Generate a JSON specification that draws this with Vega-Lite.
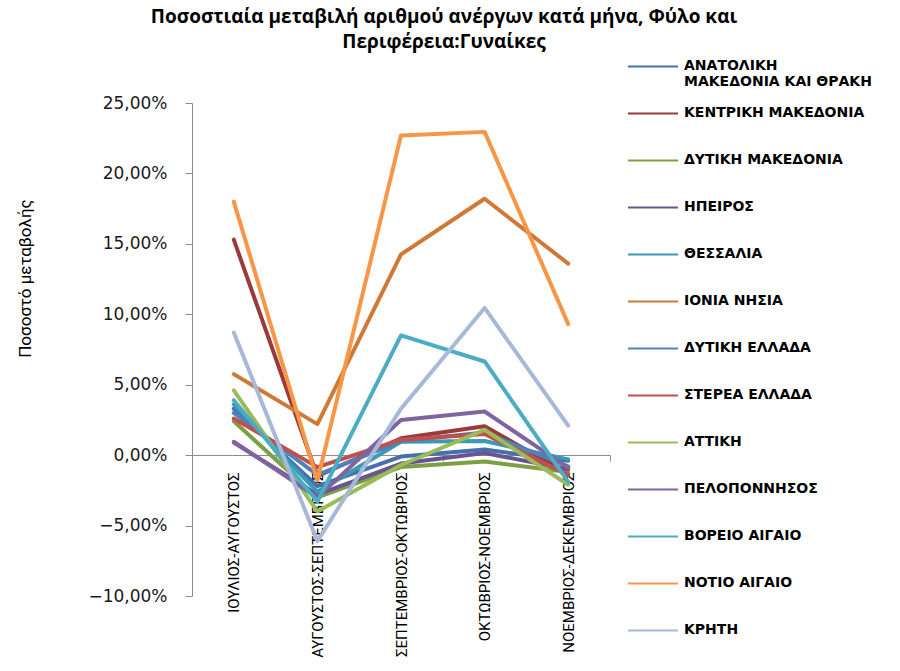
{
  "$schema": "https://vega.github.io/schema/vega-lite/v6.json",
  "width": 418,
  "height": 493,
  "autosize": "none",
  "padding": {"left": 192, "top": 103, "right": 290, "bottom": 75},
  "background": "white",
  "config": {
    "locale": {"number": {"decimal": ",", "thousands": ".", "grouping": [3], "currency": ["", " €"]}},
    "view": {"stroke": null}
  },
  "title": {
    "text": ["Ποσοστιαία μεταβιλή αριθμού ανέργων κατά μήνα, Φύλο και", "Περιφέρεια:Γυναίκες"],
    "font": "Open Sans",
    "fontSize": 19,
    "fontWeight": "bold",
    "color": "#000000",
    "lineHeight": 25,
    "anchor": "middle",
    "frame": "group",
    "dx": 43,
    "offset": -9
  },
  "data": {
    "values": [
      {"period": "ΙΟΥΛΙΟΣ-ΑΥΓΟΥΣΤΟΣ", "region": "ΑΝΑΤΟΛΙΚΗ ΜΑΚΕΔΟΝΙΑ ΚΑΙ ΘΡΑΚΗ", "value": 0.033},
      {"period": "ΑΥΓΟΥΣΤΟΣ-ΣΕΠΤΕΜΒΡΙΟΣ", "region": "ΑΝΑΤΟΛΙΚΗ ΜΑΚΕΔΟΝΙΑ ΚΑΙ ΘΡΑΚΗ", "value": -0.022},
      {"period": "ΣΕΠΤΕΜΒΡΙΟΣ-ΟΚΤΩΒΡΙΟΣ", "region": "ΑΝΑΤΟΛΙΚΗ ΜΑΚΕΔΟΝΙΑ ΚΑΙ ΘΡΑΚΗ", "value": -0.001},
      {"period": "ΟΚΤΩΒΡΙΟΣ-ΝΟΕΜΒΡΙΟΣ", "region": "ΑΝΑΤΟΛΙΚΗ ΜΑΚΕΔΟΝΙΑ ΚΑΙ ΘΡΑΚΗ", "value": 0.004},
      {"period": "ΝΟΕΜΒΡΙΟΣ-ΔΕΚΕΜΒΡΙΟΣ", "region": "ΑΝΑΤΟΛΙΚΗ ΜΑΚΕΔΟΝΙΑ ΚΑΙ ΘΡΑΚΗ", "value": -0.004},

      {"period": "ΙΟΥΛΙΟΣ-ΑΥΓΟΥΣΤΟΣ", "region": "ΚΕΝΤΡΙΚΗ ΜΑΚΕΔΟΝΙΑ", "value": 0.153},
      {"period": "ΑΥΓΟΥΣΤΟΣ-ΣΕΠΤΕΜΒΡΙΟΣ", "region": "ΚΕΝΤΡΙΚΗ ΜΑΚΕΔΟΝΙΑ", "value": -0.015},
      {"period": "ΣΕΠΤΕΜΒΡΙΟΣ-ΟΚΤΩΒΡΙΟΣ", "region": "ΚΕΝΤΡΙΚΗ ΜΑΚΕΔΟΝΙΑ", "value": 0.012},
      {"period": "ΟΚΤΩΒΡΙΟΣ-ΝΟΕΜΒΡΙΟΣ", "region": "ΚΕΝΤΡΙΚΗ ΜΑΚΕΔΟΝΙΑ", "value": 0.0205},
      {"period": "ΝΟΕΜΒΡΙΟΣ-ΔΕΚΕΜΒΡΙΟΣ", "region": "ΚΕΝΤΡΙΚΗ ΜΑΚΕΔΟΝΙΑ", "value": -0.013},

      {"period": "ΙΟΥΛΙΟΣ-ΑΥΓΟΥΣΤΟΣ", "region": "ΔΥΤΙΚΗ ΜΑΚΕΔΟΝΙΑ", "value": 0.024},
      {"period": "ΑΥΓΟΥΣΤΟΣ-ΣΕΠΤΕΜΒΡΙΟΣ", "region": "ΔΥΤΙΚΗ ΜΑΚΕΔΟΝΙΑ", "value": -0.030},
      {"period": "ΣΕΠΤΕΜΒΡΙΟΣ-ΟΚΤΩΒΡΙΟΣ", "region": "ΔΥΤΙΚΗ ΜΑΚΕΔΟΝΙΑ", "value": -0.0085},
      {"period": "ΟΚΤΩΒΡΙΟΣ-ΝΟΕΜΒΡΙΟΣ", "region": "ΔΥΤΙΚΗ ΜΑΚΕΔΟΝΙΑ", "value": -0.0045},
      {"period": "ΝΟΕΜΒΡΙΟΣ-ΔΕΚΕΜΒΡΙΟΣ", "region": "ΔΥΤΙΚΗ ΜΑΚΕΔΟΝΙΑ", "value": -0.012},

      {"period": "ΙΟΥΛΙΟΣ-ΑΥΓΟΥΣΤΟΣ", "region": "ΗΠΕΙΡΟΣ", "value": 0.009},
      {"period": "ΑΥΓΟΥΣΤΟΣ-ΣΕΠΤΕΜΒΡΙΟΣ", "region": "ΗΠΕΙΡΟΣ", "value": -0.028},
      {"period": "ΣΕΠΤΕΜΒΡΙΟΣ-ΟΚΤΩΒΡΙΟΣ", "region": "ΗΠΕΙΡΟΣ", "value": -0.006},
      {"period": "ΟΚΤΩΒΡΙΟΣ-ΝΟΕΜΒΡΙΟΣ", "region": "ΗΠΕΙΡΟΣ", "value": 0.0015},
      {"period": "ΝΟΕΜΒΡΙΟΣ-ΔΕΚΕΜΒΡΙΟΣ", "region": "ΗΠΕΙΡΟΣ", "value": -0.010},

      {"period": "ΙΟΥΛΙΟΣ-ΑΥΓΟΥΣΤΟΣ", "region": "ΘΕΣΣΑΛΙΑ", "value": 0.036},
      {"period": "ΑΥΓΟΥΣΤΟΣ-ΣΕΠΤΕΜΒΡΙΟΣ", "region": "ΘΕΣΣΑΛΙΑ", "value": -0.026},
      {"period": "ΣΕΠΤΕΜΒΡΙΟΣ-ΟΚΤΩΒΡΙΟΣ", "region": "ΘΕΣΣΑΛΙΑ", "value": 0.0095},
      {"period": "ΟΚΤΩΒΡΙΟΣ-ΝΟΕΜΒΡΙΟΣ", "region": "ΘΕΣΣΑΛΙΑ", "value": 0.010},
      {"period": "ΝΟΕΜΒΡΙΟΣ-ΔΕΚΕΜΒΡΙΟΣ", "region": "ΘΕΣΣΑΛΙΑ", "value": -0.003},

      {"period": "ΙΟΥΛΙΟΣ-ΑΥΓΟΥΣΤΟΣ", "region": "ΙΟΝΙΑ ΝΗΣΙΑ", "value": 0.0575},
      {"period": "ΑΥΓΟΥΣΤΟΣ-ΣΕΠΤΕΜΒΡΙΟΣ", "region": "ΙΟΝΙΑ ΝΗΣΙΑ", "value": 0.022},
      {"period": "ΣΕΠΤΕΜΒΡΙΟΣ-ΟΚΤΩΒΡΙΟΣ", "region": "ΙΟΝΙΑ ΝΗΣΙΑ", "value": 0.1425},
      {"period": "ΟΚΤΩΒΡΙΟΣ-ΝΟΕΜΒΡΙΟΣ", "region": "ΙΟΝΙΑ ΝΗΣΙΑ", "value": 0.182},
      {"period": "ΝΟΕΜΒΡΙΟΣ-ΔΕΚΕΜΒΡΙΟΣ", "region": "ΙΟΝΙΑ ΝΗΣΙΑ", "value": 0.136},

      {"period": "ΙΟΥΛΙΟΣ-ΑΥΓΟΥΣΤΟΣ", "region": "ΔΥΤΙΚΗ ΕΛΛΑΔΑ", "value": 0.030},
      {"period": "ΑΥΓΟΥΣΤΟΣ-ΣΕΠΤΕΜΒΡΙΟΣ", "region": "ΔΥΤΙΚΗ ΕΛΛΑΔΑ", "value": -0.014},
      {"period": "ΣΕΠΤΕΜΒΡΙΟΣ-ΟΚΤΩΒΡΙΟΣ", "region": "ΔΥΤΙΚΗ ΕΛΛΑΔΑ", "value": 0.010},
      {"period": "ΟΚΤΩΒΡΙΟΣ-ΝΟΕΜΒΡΙΟΣ", "region": "ΔΥΤΙΚΗ ΕΛΛΑΔΑ", "value": 0.016},
      {"period": "ΝΟΕΜΒΡΙΟΣ-ΔΕΚΕΜΒΡΙΟΣ", "region": "ΔΥΤΙΚΗ ΕΛΛΑΔΑ", "value": -0.008},

      {"period": "ΙΟΥΛΙΟΣ-ΑΥΓΟΥΣΤΟΣ", "region": "ΣΤΕΡΕΑ ΕΛΛΑΔΑ", "value": 0.026},
      {"period": "ΑΥΓΟΥΣΤΟΣ-ΣΕΠΤΕΜΒΡΙΟΣ", "region": "ΣΤΕΡΕΑ ΕΛΛΑΔΑ", "value": -0.0085},
      {"period": "ΣΕΠΤΕΜΒΡΙΟΣ-ΟΚΤΩΒΡΙΟΣ", "region": "ΣΤΕΡΕΑ ΕΛΛΑΔΑ", "value": 0.011},
      {"period": "ΟΚΤΩΒΡΙΟΣ-ΝΟΕΜΒΡΙΟΣ", "region": "ΣΤΕΡΕΑ ΕΛΛΑΔΑ", "value": 0.015},
      {"period": "ΝΟΕΜΒΡΙΟΣ-ΔΕΚΕΜΒΡΙΟΣ", "region": "ΣΤΕΡΕΑ ΕΛΛΑΔΑ", "value": -0.014},

      {"period": "ΙΟΥΛΙΟΣ-ΑΥΓΟΥΣΤΟΣ", "region": "ΑΤΤΙΚΗ", "value": 0.046},
      {"period": "ΑΥΓΟΥΣΤΟΣ-ΣΕΠΤΕΜΒΡΙΟΣ", "region": "ΑΤΤΙΚΗ", "value": -0.040},
      {"period": "ΣΕΠΤΕΜΒΡΙΟΣ-ΟΚΤΩΒΡΙΟΣ", "region": "ΑΤΤΙΚΗ", "value": -0.007},
      {"period": "ΟΚΤΩΒΡΙΟΣ-ΝΟΕΜΒΡΙΟΣ", "region": "ΑΤΤΙΚΗ", "value": 0.018},
      {"period": "ΝΟΕΜΒΡΙΟΣ-ΔΕΚΕΜΒΡΙΟΣ", "region": "ΑΤΤΙΚΗ", "value": -0.021},

      {"period": "ΙΟΥΛΙΟΣ-ΑΥΓΟΥΣΤΟΣ", "region": "ΠΕΛΟΠΟΝΝΗΣΟΣ", "value": 0.0095},
      {"period": "ΑΥΓΟΥΣΤΟΣ-ΣΕΠΤΕΜΒΡΙΟΣ", "region": "ΠΕΛΟΠΟΝΝΗΣΟΣ", "value": -0.030},
      {"period": "ΣΕΠΤΕΜΒΡΙΟΣ-ΟΚΤΩΒΡΙΟΣ", "region": "ΠΕΛΟΠΟΝΝΗΣΟΣ", "value": 0.025},
      {"period": "ΟΚΤΩΒΡΙΟΣ-ΝΟΕΜΒΡΙΟΣ", "region": "ΠΕΛΟΠΟΝΝΗΣΟΣ", "value": 0.031},
      {"period": "ΝΟΕΜΒΡΙΟΣ-ΔΕΚΕΜΒΡΙΟΣ", "region": "ΠΕΛΟΠΟΝΝΗΣΟΣ", "value": -0.009},

      {"period": "ΙΟΥΛΙΟΣ-ΑΥΓΟΥΣΤΟΣ", "region": "ΒΟΡΕΙΟ ΑΙΓΑΙΟ", "value": 0.039},
      {"period": "ΑΥΓΟΥΣΤΟΣ-ΣΕΠΤΕΜΒΡΙΟΣ", "region": "ΒΟΡΕΙΟ ΑΙΓΑΙΟ", "value": -0.033},
      {"period": "ΣΕΠΤΕΜΒΡΙΟΣ-ΟΚΤΩΒΡΙΟΣ", "region": "ΒΟΡΕΙΟ ΑΙΓΑΙΟ", "value": 0.085},
      {"period": "ΟΚΤΩΒΡΙΟΣ-ΝΟΕΜΒΡΙΟΣ", "region": "ΒΟΡΕΙΟ ΑΙΓΑΙΟ", "value": 0.0665},
      {"period": "ΝΟΕΜΒΡΙΟΣ-ΔΕΚΕΜΒΡΙΟΣ", "region": "ΒΟΡΕΙΟ ΑΙΓΑΙΟ", "value": -0.019},

      {"period": "ΙΟΥΛΙΟΣ-ΑΥΓΟΥΣΤΟΣ", "region": "ΝΟΤΙΟ ΑΙΓΑΙΟ", "value": 0.180},
      {"period": "ΑΥΓΟΥΣΤΟΣ-ΣΕΠΤΕΜΒΡΙΟΣ", "region": "ΝΟΤΙΟ ΑΙΓΑΙΟ", "value": -0.018},
      {"period": "ΣΕΠΤΕΜΒΡΙΟΣ-ΟΚΤΩΒΡΙΟΣ", "region": "ΝΟΤΙΟ ΑΙΓΑΙΟ", "value": 0.227},
      {"period": "ΟΚΤΩΒΡΙΟΣ-ΝΟΕΜΒΡΙΟΣ", "region": "ΝΟΤΙΟ ΑΙΓΑΙΟ", "value": 0.2295},
      {"period": "ΝΟΕΜΒΡΙΟΣ-ΔΕΚΕΜΒΡΙΟΣ", "region": "ΝΟΤΙΟ ΑΙΓΑΙΟ", "value": 0.093},

      {"period": "ΙΟΥΛΙΟΣ-ΑΥΓΟΥΣΤΟΣ", "region": "ΚΡΗΤΗ", "value": 0.087},
      {"period": "ΑΥΓΟΥΣΤΟΣ-ΣΕΠΤΕΜΒΡΙΟΣ", "region": "ΚΡΗΤΗ", "value": -0.061},
      {"period": "ΣΕΠΤΕΜΒΡΙΟΣ-ΟΚΤΩΒΡΙΟΣ", "region": "ΚΡΗΤΗ", "value": 0.033},
      {"period": "ΟΚΤΩΒΡΙΟΣ-ΝΟΕΜΒΡΙΟΣ", "region": "ΚΡΗΤΗ", "value": 0.1045},
      {"period": "ΝΟΕΜΒΡΙΟΣ-ΔΕΚΕΜΒΡΙΟΣ", "region": "ΚΡΗΤΗ", "value": 0.021}
    ]
  },
  "mark": {"type": "line", "strokeWidth": 4, "strokeCap": "round", "strokeJoin": "round"},
  "encoding": {
    "x": {
      "field": "period",
      "type": "nominal",
      "sort": ["ΙΟΥΛΙΟΣ-ΑΥΓΟΥΣΤΟΣ", "ΑΥΓΟΥΣΤΟΣ-ΣΕΠΤΕΜΒΡΙΟΣ", "ΣΕΠΤΕΜΒΡΙΟΣ-ΟΚΤΩΒΡΙΟΣ", "ΟΚΤΩΒΡΙΟΣ-ΝΟΕΜΒΡΙΟΣ", "ΝΟΕΜΒΡΙΟΣ-ΔΕΚΕΜΒΡΙΟΣ"],
      "scale": {"type": "band", "paddingInner": 0, "paddingOuter": 0},
      "axis": {
        "title": null,
        "offset": -141,
        "labelAngle": -90,
        "labelAlign": "right",
        "labelBaseline": "middle",
        "labelFont": "Roboto",
        "labelFontSize": 15,
        "labelColor": "#000000",
        "labelPadding": 11,
        "labelLimit": 400,
        "domainColor": "#8c8c8c",
        "domainWidth": 1,
        "tickBand": "extent",
        "tickColor": "#8c8c8c",
        "tickSize": 6,
        "grid": false
      }
    },
    "y": {
      "field": "value",
      "type": "quantitative",
      "scale": {"domain": [-0.1, 0.25], "nice": false, "zero": false},
      "axis": {
        "title": "Ποσοστό μεταβολής",
        "titleFont": "Roboto",
        "titleFontSize": 17,
        "titleFontWeight": "normal",
        "titleColor": "#000000",
        "titleX": -167,
        "titleY": 175,
        "titleAngle": -90,
        "titleAlign": "center",
        "titleBaseline": "middle",
        "values": [-0.1, -0.05, 0, 0.05, 0.1, 0.15, 0.2, 0.25],
        "format": ".2%",
        "labelFont": "DejaVu Sans",
        "labelFontSize": 17,
        "labelColor": "#1a1a1a",
        "labelPadding": 18,
        "domainColor": "#8c8c8c",
        "tickColor": "#8c8c8c",
        "tickSize": 7,
        "grid": false
      }
    },
    "color": {
      "field": "region",
      "type": "nominal",
      "scale": {
        "domain": ["ΑΝΑΤΟΛΙΚΗ ΜΑΚΕΔΟΝΙΑ ΚΑΙ ΘΡΑΚΗ", "ΚΕΝΤΡΙΚΗ ΜΑΚΕΔΟΝΙΑ", "ΔΥΤΙΚΗ ΜΑΚΕΔΟΝΙΑ", "ΗΠΕΙΡΟΣ", "ΘΕΣΣΑΛΙΑ", "ΙΟΝΙΑ ΝΗΣΙΑ", "ΔΥΤΙΚΗ ΕΛΛΑΔΑ", "ΣΤΕΡΕΑ ΕΛΛΑΔΑ", "ΑΤΤΙΚΗ", "ΠΕΛΟΠΟΝΝΗΣΟΣ", "ΒΟΡΕΙΟ ΑΙΓΑΙΟ", "ΝΟΤΙΟ ΑΙΓΑΙΟ", "ΚΡΗΤΗ"],
        "range": ["#4470AE", "#9A3B39", "#7E9E46", "#6A5392", "#3A99B3", "#CE7A36", "#4F81BD", "#C0504D", "#9BBB59", "#8064A2", "#4BACC6", "#F79646", "#A7B8D8"]
      },
      "legend": {
        "title": null,
        "orient": "none",
        "legendX": 435,
        "legendY": -60,
        "symbolType": "stroke",
        "symbolStrokeWidth": 2,
        "symbolSize": 2500,
        "clipHeight": 46.8,
        "rowPadding": 0,
        "padding": 0,
        "labelFont": "DejaVu Sans",
        "labelFontSize": 14,
        "labelFontWeight": "bold",
        "labelColor": "#000000",
        "labelOffset": 5,
        "labelLimit": 300,
        "labelBaseline": "middle",
        "labelExpr": "datum.label == 'ΑΝΑΤΟΛΙΚΗ ΜΑΚΕΔΟΝΙΑ ΚΑΙ ΘΡΑΚΗ' ? ['ΑΝΑΤΟΛΙΚΗ', 'ΜΑΚΕΔΟΝΙΑ ΚΑΙ ΘΡΑΚΗ'] : datum.label"
      }
    }
  }
}
